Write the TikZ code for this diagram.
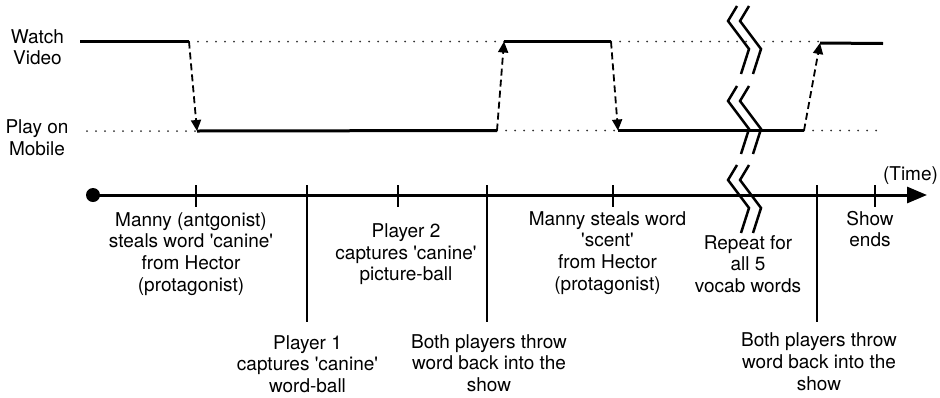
\documentclass[tikz,border=0pt]{standalone}
\usepackage{fontspec}
\setmainfont{TeX Gyre Heros}
\usetikzlibrary{arrows.meta}
\newcommand{\sq}{\textquotesingle}
\begin{document}
\begin{tikzpicture}[x=1pt,y=-1pt,
  lbl/.style={font=\fontsize{19}{21.7}\selectfont, align=center, inner sep=0pt, anchor=north},
  level/.style={line width=3pt},
  guide/.style={line width=2pt, black!80, line cap=round, dash pattern=on 0pt off 9pt},
  switch/.style={line width=1.8pt, dash pattern=on 7pt off 4pt, -{Triangle[length=11pt,width=10pt]}},
  axis/.style={line width=3pt, -{Triangle[length=20pt,width=16pt]}},
  tickmark/.style={line width=2.6pt},
  breakmark/.style={line width=2.5pt, line join=miter}]
\useasboundingbox (0,0) rectangle (940,397);

% state levels
\node[lbl] (watch) at (37.5,27.8) {\strut Watch\\Video};
\node[lbl] (play) at (37,118.3) {\strut Play on\\Mobile};

% corner points of the state trace
\coordinate (wA) at (80,41.5);
\coordinate (wB) at (189,41.5);
\coordinate (pA) at (197,131);
\coordinate (pB) at (497,130.5);
\coordinate (wC) at (504,41.5);
\coordinate (wD) at (611,41.5);
\coordinate (pC) at (618,130.5);
\coordinate (pD) at (804,130.5);
\coordinate (wE) at (820,43);
\coordinate (wF) at (883,43.5);
\coordinate (gT) at (818,41.5);
\coordinate (gL) at (87,131);
\coordinate (gR) at (883,130.5);

% dotted guides for the inactive level
\draw[guide] (wB) -- (wC);
\draw[guide] (wD) -- (gT);
\draw[guide] (gL) -- (pA);
\draw[guide] (pB) -- (pC);
\draw[guide] (pD) -- (gR);

% active level
\draw[level] (wA) -- (wB);
\draw[level] (pA) -- (pB);
\draw[level] (wC) -- (wD);
\draw[level] (pC) -- (pD);
\draw[level] (wE) -- (wF);

% switches between levels
\draw[switch] (wB) -- (pA);
\draw[switch] (pB) -- (wC);
\draw[switch] (wD) -- (pC);
\draw[switch] (pD) -- (wE);

% time axis
\coordinate (t0) at (93,195);
\coordinate (t1) at (927,195);
\fill (t0) circle (7);
\draw[axis] (t0) -- (t1);
\node[font=\fontsize{19}{21.7}\selectfont, inner sep=0pt, anchor=base] (time) at (910.5,180.7) {(Time)};

\foreach \x in {196,398,613,875}
  \draw[tickmark] (\x,185) -- (\x,207);
\foreach \x in {307,487,817}
  \draw[tickmark] (\x,185) -- (\x,322);

% break marks
\foreach \y in {6,86,165}
  \foreach \dx in {0,12}
    \draw[breakmark] (737+\dx,\y) -- ++(-9,15) -- ++(21,28) -- ++(-8,25);

% events
\node[lbl] (e1) at (191,210.8) {\strut Manny (antgonist)\\steals word \sq canine\sq\\from Hector\\(protagonist)};
\node[lbl] (e2) at (307.5,333.8) {\strut Player 1\\captures \sq canine\sq\\word-ball};
\node[lbl] (e3) at (406,222.1) {\strut Player 2\\captures \sq canine\sq\\picture-ball};
\node[lbl] (e4) at (489,332.8) {\strut Both players throw\\word back into the\\show};
\node[lbl] (e5) at (607.5,209.8) {\strut Manny steals word\\\sq scent\sq\\from Hector\\(protagonist)};
\node[lbl] (e6) at (748,233.8) {\strut Repeat for\\all 5\\vocab words};
\node[lbl] (e7) at (819,331.5) {\strut Both players throw\\word back into the\\show};
\node[lbl] (e8) at (870,209.8) {\strut Show\\ends};
\end{tikzpicture}
\end{document}
